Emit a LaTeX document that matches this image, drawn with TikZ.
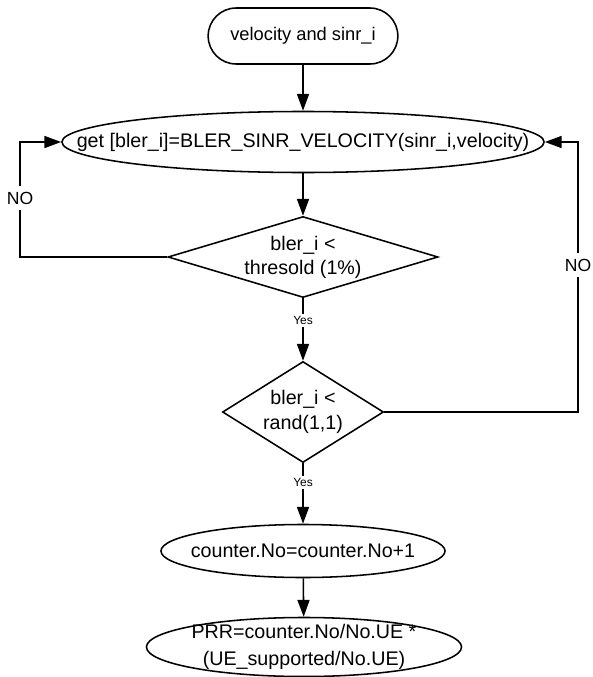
\documentclass[tikz,border=0pt]{standalone}
\usepackage{fontspec}
\setmainfont{Liberation Sans}
\usetikzlibrary{shapes.geometric}
\usetikzlibrary{shapes.misc}
\usetikzlibrary{arrows.meta}
\tikzset{
	term/.style={rounded rectangle,draw,minimum width=4.975cm,minimum height=1.4cm,font=\fontsize{13}{16}\selectfont},
	proc/.style={ellipse,draw,inner sep=0pt},
	test/.style={diamond,draw,inner sep=0pt},
	edge/.style={-{Triangle[width=0.3cm,length=0.42cm]}},
	answer/.style={font=\fontsize{8.5}{10}\selectfont,fill=white,inner sep=1.5pt},
	back/.style={inner sep=0.12cm,font=\fontsize{12.5}{15}\selectfont}
}

\begin{document}
\begin{tikzpicture}[x=0.025cm,y=-0.025cm,line width=1.1pt,font=\fontsize{14}{17}\selectfont]
		\useasboundingbox (0,0) rectangle (592,677);
		\node[term] (in) at (303,36) {velocity and sinr\_i};
		\node[proc,minimum width=12.05cm,minimum height=1.525cm,label=center:{get [bler\_i]=BLER\_SINR\_VELOCITY(sinr\_i,velocity)}] (get) at (303,142) {};
		\node[test,minimum width=6.75cm,minimum height=2.025cm,label={[align=center]center:{bler\_i <\\thresold (1\%)}}] (thr) at (303,257) {};
		\node[test,minimum width=4.025cm,minimum height=2.525cm,label={[align=center,font=\fontsize{14}{18}\selectfont]center:{bler\_i <\\rand(1,1)}}] (rnd) at (303,412) {};
		\node[proc,minimum width=7.1cm,minimum height=1.325cm,label=center:{counter.No=counter.No+1}] (cnt) at (303,551) {};
		\node[proc,minimum width=7.875cm,minimum height=1.475cm,label={[align=center,font=\fontsize{14}{19}\selectfont]center:{PRR=counter.No/No.UE *\\(UE\_supported/No.UE)}}] (prr) at (304,647) {};
		\node[back] (noL) at (20,198) {NO};
		\node[back] (noR) at (578,265) {NO};
		
		\draw[edge] (in) -- (get);
		\draw[edge] (get) -- (thr);
		\draw[edge] (thr) -- node[answer,pos=0.36] {Yes} (rnd);
		\draw[edge] (rnd) -- node[answer,pos=0.32] {Yes} (cnt);
		\draw[edge] (cnt) -- (prr);
		\draw[edge] (thr.west) -| (noL) |- (get.west);
		\draw[edge] (rnd.east) -| (noR) |- (get.east);
\end{tikzpicture}
\end{document}
